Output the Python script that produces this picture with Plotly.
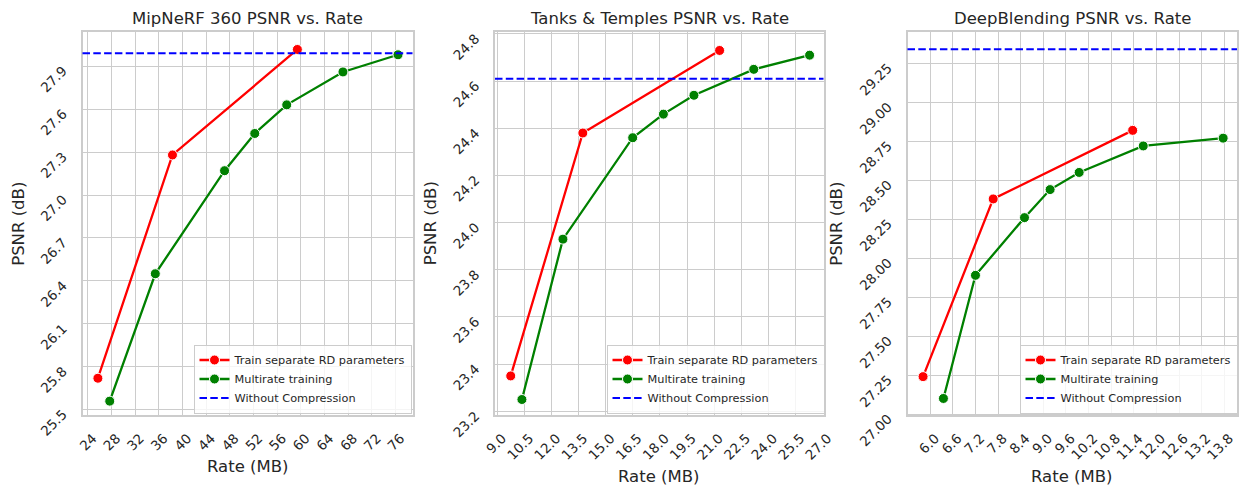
import plotly.graph_objects as go

W, H = 1239, 485

# ---------------- data ----------------
titles = ["MipNeRF 360 PSNR vs. Rate", "Tanks & Temples PSNR vs. Rate", "DeepBlending PSNR vs. Rate"]

mip_sep_rate = [25.7, 38.3, 59.4]
mip_sep_psnr = [25.72, 27.28, 28.017]
mip_multi_rate = [27.7, 35.4, 47.1, 52.2, 57.6, 67.1, 76.4]
mip_multi_psnr = [25.56, 26.45, 27.17, 27.43, 27.63, 27.86, 27.98]
mip_nocomp = 27.991

tt_sep_rate = [9.74, 13.73, 21.3]
tt_sep_psnr = [23.35, 24.38, 24.73]
tt_multi_rate = [10.36, 12.63, 16.49, 18.19, 19.88, 23.19, 26.28]
tt_multi_psnr = [23.25, 23.93, 24.36, 24.46, 24.54, 24.65, 24.71]
tt_nocomp = 24.61

db_sep_rate = [5.81, 7.67, 11.37]
db_sep_psnr = [27.24, 28.38, 28.82]
db_multi_rate = [6.35, 7.2, 8.5, 9.18, 9.95, 11.65, 13.77]
db_multi_psnr = [27.10, 27.89, 28.26, 28.44, 28.55, 28.72, 28.77]
db_nocomp = 29.34

mip_xticks = [24, 28, 32, 36, 40, 44, 48, 52, 56, 60, 64, 68, 72, 76]
mip_yticks = [25.5, 25.8, 26.1, 26.4, 26.7, 27.0, 27.3, 27.6, 27.9]
tt_xticks = [9.0, 10.5, 12.0, 13.5, 15.0, 16.5, 18.0, 19.5, 21.0, 22.5, 24.0, 25.5, 27.0]
tt_yticks = [23.2, 23.4, 23.6, 23.8, 24.0, 24.2, 24.4, 24.6, 24.8]
db_xticks = [6.0, 6.6, 7.2, 7.8, 8.4, 9.0, 9.6, 10.2, 10.8, 11.4, 12.0, 12.6, 13.2, 13.8]
db_yticks = [27.00, 27.25, 27.50, 27.75, 28.00, 28.25, 28.50, 28.75, 29.00, 29.25]

labels = ["Train separate RD parameters", "Multirate training", "Without Compression"]

# ---------------- layout geometry (pixels) ----------------
px_dom = [(82.5, 412.5), (495, 823.5), (907.5, 1237)]
top_px, bot_px = 32.3, 415.3
x_ranges = [(23.1, 78.85), (8.87, 27.05), (5.397, 14.137)]
y_ranges = [(25.461, 28.137), (23.183, 24.807), (26.992, 29.449)]
legend_pos = [(193.5, 344.5), (606.5, 344.5), (1019.5, 344.5)]

panels = [
    (mip_sep_rate, mip_sep_psnr, mip_multi_rate, mip_multi_psnr, mip_nocomp, mip_xticks, mip_yticks, "d", ".1f"),
    (tt_sep_rate, tt_sep_psnr, tt_multi_rate, tt_multi_psnr, tt_nocomp, tt_xticks, tt_yticks, ".1f", ".1f"),
    (db_sep_rate, db_sep_psnr, db_multi_rate, db_multi_psnr, db_nocomp, db_xticks, db_yticks, ".1f", ".2f"),
]

FONT = "DejaVu Sans"
TXT = "#262626"
GRID = "#cccccc"

fig = go.Figure()
layout = dict(
    template="none",
    width=W, height=H, autosize=False,
    margin=dict(l=0, r=0, t=0, b=0, pad=0),
    paper_bgcolor="white", plot_bgcolor="white",
    font=dict(family=FONT, color=TXT),
    annotations=[], shapes=[],
)

for i, (sr, sp, mr, mp, nc, xt, yt, xf, yf) in enumerate(panels):
    n = "" if i == 0 else str(i + 1)
    xa, ya = "x" + n, "y" + n
    leg = "legend" + n
    fig.add_trace(go.Scatter(
        x=sr, y=sp, mode="lines+markers", name=labels[0],
        line=dict(color="red", width=2.3),
        marker=dict(color="red", size=10, line=dict(color="white", width=1)),
        xaxis=xa, yaxis=ya, legend=leg, showlegend=True))
    fig.add_trace(go.Scatter(
        x=mr, y=mp, mode="lines+markers", name=labels[1],
        line=dict(color="green", width=2.3),
        marker=dict(color="green", size=10, line=dict(color="white", width=1)),
        xaxis=xa, yaxis=ya, legend=leg, showlegend=True))
    layout["shapes"].append(dict(
        type="line", xref=xa + " domain", yref=ya, x0=0, x1=1, y0=nc, y1=nc,
        line=dict(color="blue", width=2, dash="7.5px,3.3px"),
        name=labels[2], showlegend=True, legend=leg, layer="above"))

    x0p, x1p = px_dom[i]
    axcommon = dict(
        automargin=False,
        showgrid=True, gridcolor=GRID, gridwidth=1.3,
        showline=True, linecolor=GRID, linewidth=1.7, mirror=True,
        ticks="", zeroline=False, tickangle=-45,
        tickfont=dict(family=FONT, size=13.5, color=TXT),
    )
    layout["xaxis" + n] = dict(
        axcommon, domain=[x0p / W, x1p / W], anchor=ya, range=list(x_ranges[i]),
        tickmode="array", tickvals=xt, ticktext=[format(v, xf) for v in xt],
        ticklabelstandoff=8, ticklabelshift=5,
    )
    layout["yaxis" + n] = dict(
        axcommon, domain=[1 - bot_px / H, 1 - top_px / H], anchor=xa, range=list(y_ranges[i]),
        tickmode="array", tickvals=yt, ticktext=[format(v, yf) for v in yt],
        ticklabelstandoff=15, ticklabelshift=3,
    )
    lx, ly = legend_pos[i]
    layout[leg] = dict(
        x=lx / W, y=1 - ly / H, xanchor="left", yanchor="top",
        xref="paper", yref="paper",
        bgcolor="rgba(255,255,255,0.8)", bordercolor=GRID, borderwidth=1,
        font=dict(family=FONT, size=11.3, color=TXT),
        tracegroupgap=0,
    )
    cx = (x0p + x1p) / 2
    layout["annotations"].append(dict(
        text=titles[i], x=cx / W, y=1 - 19 / H, xref="paper", yref="paper",
        xanchor="center", yanchor="middle", showarrow=False,
        font=dict(family=FONT, size=16.5, color=TXT)))

xlab_y = [466.7, 476.7, 476.7]
ylab_x = [19, 430.5, 837]
for i in range(3):
    x0p, x1p = px_dom[i]
    layout["annotations"].append(dict(
        text="Rate (MB)", x=((x0p + x1p) / 2) / W, y=1 - xlab_y[i] / H,
        xref="paper", yref="paper", xanchor="center", yanchor="middle",
        showarrow=False, font=dict(family=FONT, size=16.5, color=TXT)))
    layout["annotations"].append(dict(
        text="PSNR (dB)", x=ylab_x[i] / W, y=1 - ((top_px + bot_px) / 2) / H,
        xref="paper", yref="paper", xanchor="center", yanchor="middle",
        textangle=-90, showarrow=False, font=dict(family=FONT, size=16.5, color=TXT)))

fig.update_layout(**layout)
fig.write_html("out.html")
